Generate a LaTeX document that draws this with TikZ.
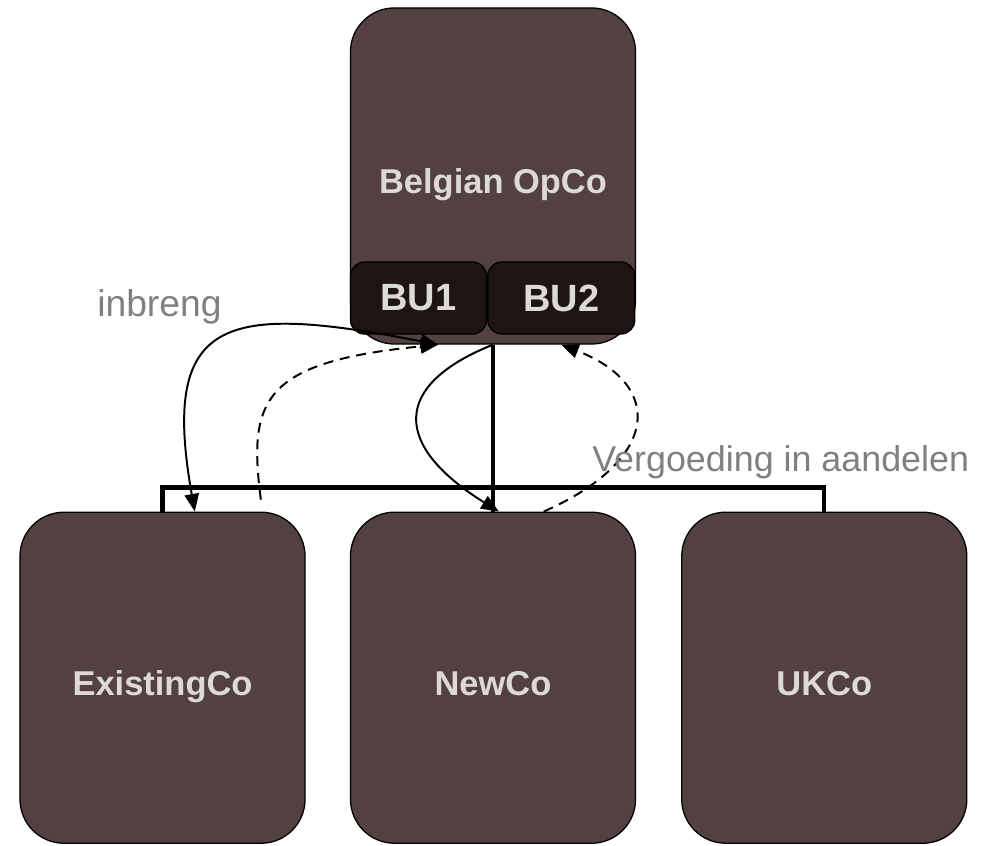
\documentclass[tikz,border=0pt]{standalone}
\usepackage{fontspec}
\setmainfont{Liberation Sans}
\usepackage{tikz}
\usetikzlibrary{arrows,arrows.meta,shapes,positioning,calc}

\definecolor{boxBrown}{RGB}{83,65,65}
\definecolor{buDark}{RGB}{30,20,20}
\definecolor{boxText}{RGB}{221,217,211}
\definecolor{noteGrey}{RGB}{128,128,128}

\begin{document}
\begin{tikzpicture}[x=0.025cm,y=0.025cm,
>={Triangle[length=0.44cm,width=0.36cm]},
node distance=8.27cm]
\tikzset{
	company/.style={
		rectangle,
		rounded corners=1.1cm,
		fill=boxBrown,
		draw=black,
		line width=0.9pt,
		minimum width=7.125cm,
		minimum height=8.275cm,
		inner sep=0pt,
		text height=0.89cm,
		text depth=0pt,
		text=boxText,
		font=\fontsize{24.5}{29}\selectfont\bfseries
	},
	unit/.style={
		rectangle,
		rounded corners=0.35cm,
		fill=buDark,
		draw=black,
		line width=0.9pt,
		minimum height=1.8cm,
		inner sep=0pt,
		text=boxText,
		font=\fontsize{27}{32}\selectfont\bfseries
	},
	note/.style={text=noteGrey, inner sep=0pt, font=\fontsize{25.5}{30}\selectfont},
	assetflow/.style={line width=1.4pt},
	shareflow/.style={line width=1.4pt, dash pattern=on 0.25cm off 0.17cm}
}
\useasboundingbox (0,0) rectangle (1006,846);

%--------------------------- parent ------------
\node[company, minimum height=8.4cm] (OPCO) at (493,670) {Belgian OpCo};

\node[unit, minimum width=3.4cm, above right=0.25cm and 0cm of OPCO.south west] (BU1) {BU1};
\node[unit, minimum width=3.675cm, right=0cm of BU1] (BU2) {BU2};

%--------------------------- subsidiaries ------------
\node[company] (NEWCO) [below of=OPCO, node distance=12.54cm] {NewCo};
\node[company] (EXCO) [left of=NEWCO, node distance=8.26cm] {ExistingCo};
\node[company] (UKCO) [right of=NEWCO, node distance=8.28cm] {UKCo};

%ownership
\draw[line width=0.11cm] (OPCO.south) -- (NEWCO.north);
\draw[line width=0.11cm] (EXCO.north) -- ++(0,24) -| (UKCO.north);

%inbreng
\draw[<->, assetflow] (OPCO.252) .. controls (225,543) and (160,530) .. (EXCO.79);
\draw[->, shareflow, shorten <=0.3cm] (EXCO.59) .. controls (248,446) and (262,484) .. (OPCO.252);

\draw[->, assetflow] (OPCO.south) .. controls (392,461) and (392,401) .. (NEWCO.88);
\draw[->, shareflow] (NEWCO.73) .. controls (660,386) and (665,461) .. (OPCO.292);

%---------------- notes ------------
\node[note, anchor=base west, font=\fontsize{26.5}{31}\selectfont] (INBRENG) at (97,529) {inbreng};
\node[note, anchor=base west] (VERG) at (592,374) {Vergoeding in aandelen};

\end{tikzpicture}
\end{document}
